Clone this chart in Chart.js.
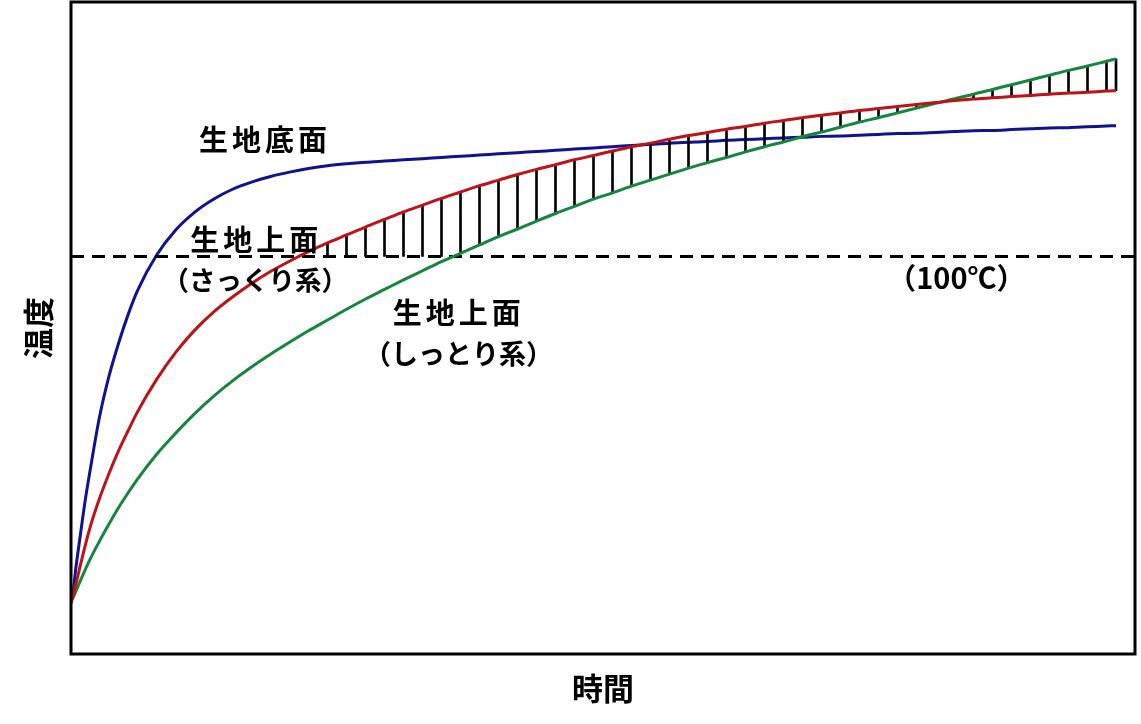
<!DOCTYPE html>
<html lang="ja">
<head>
<meta charset="utf-8">
<title>生地の温度変化</title>
<script src="https://cdn.jsdelivr.net/npm/chart.js@4.4.1/dist/chart.umd.min.js"></script>
<style>
  html, body { margin: 0; padding: 0; background: #fff; }
  #wrap { width: 1141px; height: 724px; position: relative; }
</style>
</head>
<body>
<div id="wrap"><canvas id="chart"></canvas></div>
<script>
// time axis (arbitrary units) and temperatures (°C)
let times = [0, 0.1, 0.25, 0.5, 0.75, 1, 1.5, 2, 2.5, 3, 3.5,
    4.5, 5.5, 6.5, 7.5, 8.5, 9.5, 10.5, 11.5, 12.5,
    13.5, 14.5, 15.5, 16.5, 17.5, 18.5, 19.5, 20.5, 21.5, 22.5,
    23.5, 24.5, 25.5, 26.5, 27.5, 28.5, 29.5, 30.5, 31.5, 32.5,
    33.5, 34.5, 35.5, 36.5, 37.5, 38.5, 39.5, 40.5, 41.5, 42.5,
    43.5, 44.5, 45.5, 46.5, 47.5, 48.5, 49.5, 50.5, 51.5, 52.5,
    53.5, 54.5, 55];

// 生地底面
let bottomTemp = [13.3, 15.2, 21.4, 30.2, 38.7, 46.0, 59.6, 69.9, 78.1, 85.3, 91.4,
    100.3, 106.6, 111.1, 114.4, 116.9, 118.7, 120.1, 121.2, 122.1,
    122.8, 123.3, 123.7, 124.0, 124.3, 124.6, 124.9, 125.2, 125.5, 125.8,
    126.1, 126.4, 126.7, 127.0, 127.3, 127.6, 127.9, 128.2, 128.5, 128.7,
    128.9, 129.2, 129.4, 129.6, 129.8, 130.0, 130.2, 130.3, 130.5, 130.7,
    130.9, 131.0, 131.2, 131.4, 131.6, 131.7, 131.9, 132.1, 132.3, 132.4,
    132.6, 132.8, 132.9];

// 生地上面（さっくり系）
let crispTemp = [12.7, 14.5, 17.4, 22.5, 27.3, 31.8, 39.1, 45.4, 51.1, 56.1, 60.9,
    69.0, 75.8, 81.4, 86.0, 89.8, 93.2, 96.2, 98.8, 101.2,
    103.4, 105.4, 107.4, 109.3, 111.2, 112.9, 114.6, 116.2, 117.8, 119.2,
    120.6, 121.9, 123.1, 124.3, 125.4, 126.5, 127.6, 128.5, 129.5, 130.4,
    131.2, 132.0, 132.7, 133.5, 134.2, 134.9, 135.5, 136.1, 136.7, 137.2,
    137.7, 138.2, 138.7, 139.2, 139.6, 139.9, 140.2, 140.5, 140.8, 141.1,
    141.3, 141.6, 141.7];

// 生地上面（しっとり系）
let moistTemp = [13.6, 14.1, 15.7, 18.5, 21.2, 23.8, 28.4, 32.7, 36.8, 40.5, 44.0,
    50.2, 55.5, 60.4, 64.8, 68.7, 72.2, 75.4, 78.4, 81.3,
    84.0, 86.7, 89.3, 91.7, 94.1, 96.4, 98.7, 100.8, 102.9, 105.0,
    106.9, 108.9, 110.8, 112.6, 114.4, 116.0, 117.7, 119.2, 120.7, 122.2,
    123.6, 124.9, 126.3, 127.6, 128.8, 130.1, 131.3, 132.5, 133.8, 134.9,
    136.1, 137.3, 138.5, 139.7, 140.8, 142.0, 143.2, 144.4, 145.6, 146.8,
    147.9, 149.1, 149.7];

let boilingPoint = 100;
let hatchFrom = 13.5;   // hatching starts here (time)
let timeRange = [0, 56];
let tempRange = [0, 164];

const FONT = '"Noto Sans CJK JP", "Noto Sans", sans-serif';

// build xy points for a series
function toPoints(values) {
    return times.map((t, i) => ({ x: t, y: values[i] }));
}

// hatching: thin floating bars between the two surface curves, only above 100°C
let hatchPoints = [];
times.forEach((t, i) => {
    if (t < hatchFrom) return;
    let hi = Math.max(crispTemp[i], moistTemp[i]);
    let lo = Math.max(Math.min(crispTemp[i], moistTemp[i]), boilingPoint);
    if (hi > lo) hatchPoints.push({ x: t, y: [lo, hi] });
});

// text placed on the plot (time, temperature)
let notes = [
    { text: '生地底面', x: 10.1, y: 129.3, size: 29, weight: 'bold', spacing: 4 },
    { text: '生地上面', x: 9.65, y: 104.1, size: 29, weight: 'bold', spacing: 4 },
    { text: '（さっくり系）', x: 9.7, y: 94.0, size: 26.5, weight: 'bold', spacing: 0 },
    { text: '生地上面', x: 20.3, y: 85.8, size: 29, weight: 'bold', spacing: 4 },
    { text: '（しっとり系）', x: 20.4, y: 75.6, size: 27, weight: 'bold', spacing: 0 },
    { text: '（100℃）', x: 46.6, y: 94.6, size: 29, weight: 'bold', spacing: 0 }
];

const framePlugin = {
    id: 'frame',
    afterDatasetsDraw(chart) {
        const { ctx, chartArea: a, scales } = chart;
        ctx.save();
        ctx.fillStyle = '#000';
        ctx.textAlign = 'center';
        ctx.textBaseline = 'middle';
        notes.forEach(n => {
            ctx.font = `${n.weight} ${n.size}px ${FONT}`;
            ctx.letterSpacing = n.spacing + 'px';
            ctx.fillText(n.text, scales.x.getPixelForValue(n.x) + n.spacing / 2, scales.y.getPixelForValue(n.y));
        });
        ctx.letterSpacing = '0px';
        ctx.strokeStyle = '#000';
        ctx.lineWidth = 3;
        ctx.strokeRect(a.left, a.top, a.right - a.left, a.bottom - a.top);
        ctx.restore();
    }
};

const lineStyle = {
    type: 'line',
    borderWidth: 3,
    pointRadius: 0,
    fill: false,
    cubicInterpolationMode: 'monotone'
};

new Chart(document.getElementById('chart'), {
    type: 'line',
    data: {
        datasets: [
            { ...lineStyle, label: '生地底面', data: toPoints(bottomTemp), borderColor: '#10128f', order: 5 },
            {
                type: 'bar', label: 'hatch', data: hatchPoints, backgroundColor: '#000',
                barThickness: 2, grouped: false, order: 4
            },
            {
                type: 'line', label: '100℃', data: [{ x: timeRange[0], y: boilingPoint }, { x: timeRange[1], y: boilingPoint }],
                borderColor: '#000', borderWidth: 3, borderDash: [13, 8], pointRadius: 0, order: 3
            },
            { ...lineStyle, label: '生地上面（しっとり系）', data: toPoints(moistTemp), borderColor: '#16853f', order: 2 },
            { ...lineStyle, label: '生地上面（さっくり系）', data: toPoints(crispTemp), borderColor: '#bf1218', order: 1 }
        ]
    },
    options: {
        responsive: true,
        maintainAspectRatio: false,
        animation: false,
        events: [],
        layout: { padding: { left: 0, top: 2, right: 6, bottom: 0 } },
        plugins: { legend: { display: false }, tooltip: { enabled: false } },
        scales: {
            x: {
                type: 'linear', min: timeRange[0], max: timeRange[1], offset: false,
                grid: { display: false, drawTicks: false }, border: { display: false },
                ticks: { display: false },
                title: {
                    display: true, text: '時間', color: '#000',
                    font: { family: FONT, size: 31, weight: 'bold' },
                    padding: { top: 15.4, bottom: 17.4 }
                }
            },
            y: {
                type: 'linear', min: tempRange[0], max: tempRange[1],
                grid: { display: false, drawTicks: false }, border: { display: false },
                ticks: { display: false },
                title: {
                    display: true, text: '温度', color: '#000',
                    font: { family: FONT, size: 31, weight: 'bold' },
                    padding: { top: 19.4, bottom: 14.4 }
                }
            }
        }
    },
    plugins: [framePlugin]
});
</script>
</body>
</html>
